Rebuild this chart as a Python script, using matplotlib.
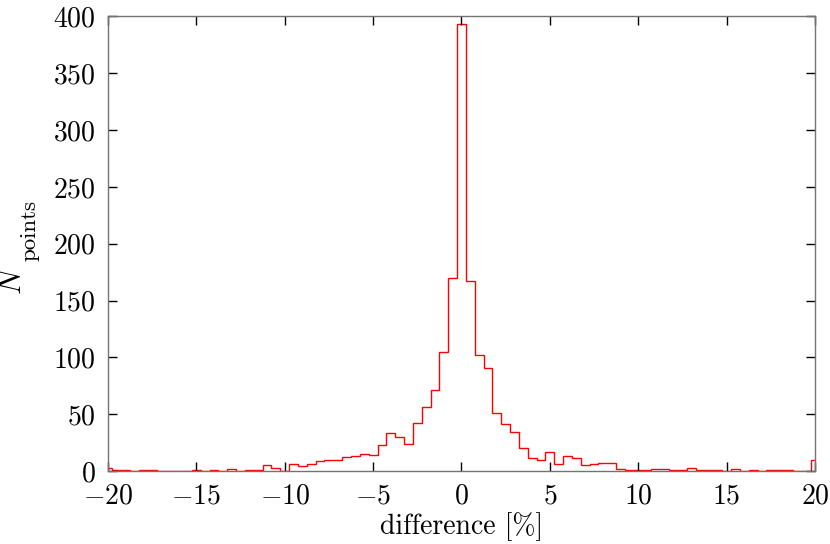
import matplotlib
matplotlib.use("Agg")
import matplotlib.pyplot as plt
import numpy as np

# histogram of the differences, bins 0.5 wide, centred on multiples of 0.5
bin_lo = -20.25
bin_width = 0.5
counts = [
    3, 1, 1, 0, 1, 1, 0, 0, 0, 0,          # -20.0 .. -15.5
    1, 0, 1, 0, 2, 0, 1, 1, 5, 3,          # -15.0 .. -10.5
    0, 6, 4, 6, 9, 10, 10, 12, 13, 15,     # -10.0 .. -5.5
    14, 23, 33, 30, 24, 42, 56, 71, 105, 170,  # -5.0 .. -0.5
    393,                                   # 0.0
    167, 102, 91, 51, 41, 34, 20, 11, 10, 17,  # 0.5 .. 5.0
    6, 13, 11, 5, 6, 7, 7, 2, 1, 1,        # 5.5 .. 10.0
    1, 2, 2, 1, 1, 3, 1, 1, 1, 0,          # 10.5 .. 15.0
    2, 0, 1, 0, 1, 1, 1, 0, 0, 10,         # 15.5 .. 20.0
]
edges = bin_lo + bin_width * np.arange(len(counts) + 1)

x_ticks = [-20, -15, -10, -5, 0, 5, 10, 15, 20]
y_ticks = [0, 50, 100, 150, 200, 250, 300, 350, 400]

plt.rcParams["font.family"] = "serif"
plt.rcParams["font.serif"] = ["cmr10"]
plt.rcParams["mathtext.fontset"] = "cm"
plt.rcParams["axes.formatter.use_mathtext"] = True

W, H = 830, 544
fig = plt.figure(figsize=(W / 100, H / 100), dpi=100)
ax = fig.add_axes([0.1301, 0.1342, 0.8518, 0.8355])

ax.stairs(counts, edges, color="red", linewidth=1.0)

ax.set_xlim(-20, 20)
ax.set_ylim(0, 400)
ax.set_xticks(x_ticks)
ax.set_yticks(y_ticks)
ax.tick_params(direction="in", top=True, right=True, length=6.5, width=1.0,
               labelsize=20, pad=9, color="black")
for s in ax.spines.values():
    s.set_color("0.45")
    s.set_linewidth(1.0)

ax.set_xlabel("difference [%]", fontsize=20, labelpad=2)

# y label N_points, latex style (subscript set in a wider, bigger face)
fig.text(13 / W, 1 - 280 / H, r"$N$", rotation=90, ha="center", va="center",
         fontsize=22)
fig.text(30 / W, 1 - 231 / H, "points", rotation=90, ha="center",
         va="center", fontsize=16.5)

fig.savefig("out.png", dpi=100)
